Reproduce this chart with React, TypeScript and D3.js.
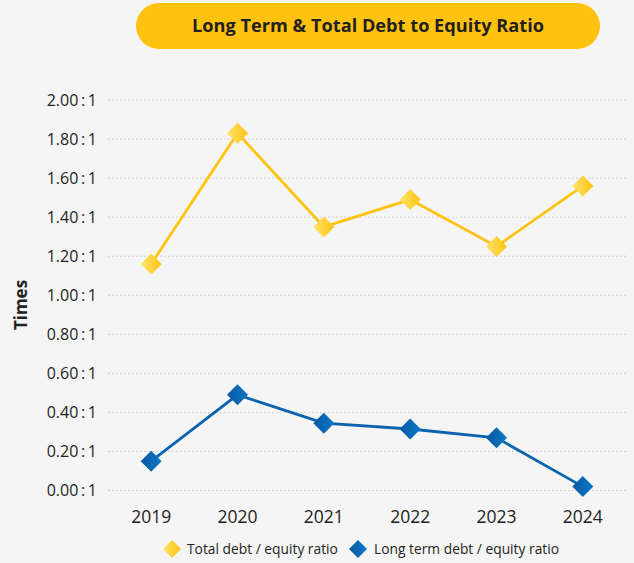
import React from "react";
import * as d3 from "d3";

const years = ["2019", "2020", "2021", "2022", "2023", "2024"];
const totalDebtEquity = [1.16, 1.83, 1.35, 1.49, 1.25, 1.56];
const longTermDebtEquity = [0.15, 0.49, 0.345, 0.315, 0.27, 0.02];
const yTicks = [0, 0.2, 0.4, 0.6, 0.8, 1.0, 1.2, 1.4, 1.6, 1.8, 2.0];
const seriesNames = ["Total debt / equity ratio", "Long term debt / equity ratio"];
const titleText = "Long Term & Total Debt to Equity Ratio";

const W = 634;
const H = 563;
const FONT = "'Open Sans', 'Noto Sans', sans-serif";

export default function App() {
  const x = d3.scalePoint<string>().domain(years).range([108, 626]).padding(0.5);
  const y = d3.scaleLinear().domain([0, 2]).range([490.5, 100]);

  const line = d3
    .line<number>()
    .x((_, i) => x(years[i]) as number)
    .y((d) => y(d));

  const diamond = (cx: number, cy: number, r: number) =>
    `M${cx},${cy - r}L${cx + r},${cy}L${cx},${cy + r}L${cx - r},${cy}Z`;

  const series = [
    { name: seriesNames[0], values: totalDebtEquity, color: "#FFC20E", grad: "gradY" },
    { name: seriesNames[1], values: longTermDebtEquity, color: "#0B63AE", grad: "gradB" },
  ];

  const fmt = (v: number) => `${v.toFixed(2)}\u2009:\u20091`;

  return (
    <svg
      width={W}
      height={H}
      style={{ position: "absolute", left: 0, top: 0, display: "block" }}
      fontFamily={FONT}
    >
      <defs>
        <linearGradient id="gradY" x1="0" y1="0" x2="1" y2="0">
          <stop offset="0" stopColor="#FFE36E" />
          <stop offset="1" stopColor="#FFC20E" />
        </linearGradient>
        <linearGradient id="gradB" x1="0" y1="0" x2="1" y2="0">
          <stop offset="0" stopColor="#0A58A0" />
          <stop offset="1" stopColor="#0A78C8" />
        </linearGradient>
      </defs>
      <rect x={0} y={0} width={W} height={H} fill="#F5F5F5" />

      {/* Title pill */}
      <rect x={136} y={3} width={464} height={46} rx={23} fill="#FFC20E" />
      <text
        x={368}
        y={32}
        textAnchor="middle"
        fontSize={18.2}
        fontWeight="bold"
        fill="#231F20"
      >
        {titleText}
      </text>

      {/* grid + y labels */}
      {yTicks.map((t) => (
        <g key={t}>
          <line
            x1={108}
            x2={626}
            y1={y(t)}
            y2={y(t)}
            stroke="#CFCFCF"
            strokeWidth={1}
            strokeDasharray="2,2"
          />
          <text
            x={97}
            y={y(t)}
            dy="0.35em"
            textAnchor="end"
            fontSize={16}
            fill="#231F20"
          >
            {fmt(t)}
          </text>
        </g>
      ))}

      {/* y title */}
      <text
        transform={`translate(21,${305}) rotate(-90)`}
        textAnchor="middle"
        dy="0.35em"
        fontSize={17}
        fontWeight="bold"
        fill="#231F20"
      >
        Times
      </text>

      {/* x labels */}
      {years.map((yr) => (
        <text
          key={yr}
          x={x(yr) as number}
          y={517}
          dy="0.35em"
          textAnchor="middle"
          fontSize={17.5}
          fill="#231F20"
        >
          {yr}
        </text>
      ))}

      {/* series */}
      {series.map((s) => (
        <g key={s.name}>
          <path d={line(s.values) || ""} fill="none" stroke={s.color} strokeWidth={2.8} />
          {s.values.map((v, i) => (
            <path
              key={i}
              d={diamond(x(years[i]) as number, y(v), 10.5)}
              fill={`url(#${s.grad})`}
            />
          ))}
        </g>
      ))}

      {/* legend */}
      <path d={diamond(172, 549, 9)} fill="url(#gradY)" />
      <text x={187} y={549} dy="0.35em" fontSize={13.8} fill="#231F20">
        {seriesNames[0]}
      </text>
      <path d={diamond(358, 549, 9)} fill="url(#gradB)" />
      <text x={374} y={549} dy="0.35em" fontSize={13.8} fill="#231F20">
        {seriesNames[1]}
      </text>
    </svg>
  );
}
